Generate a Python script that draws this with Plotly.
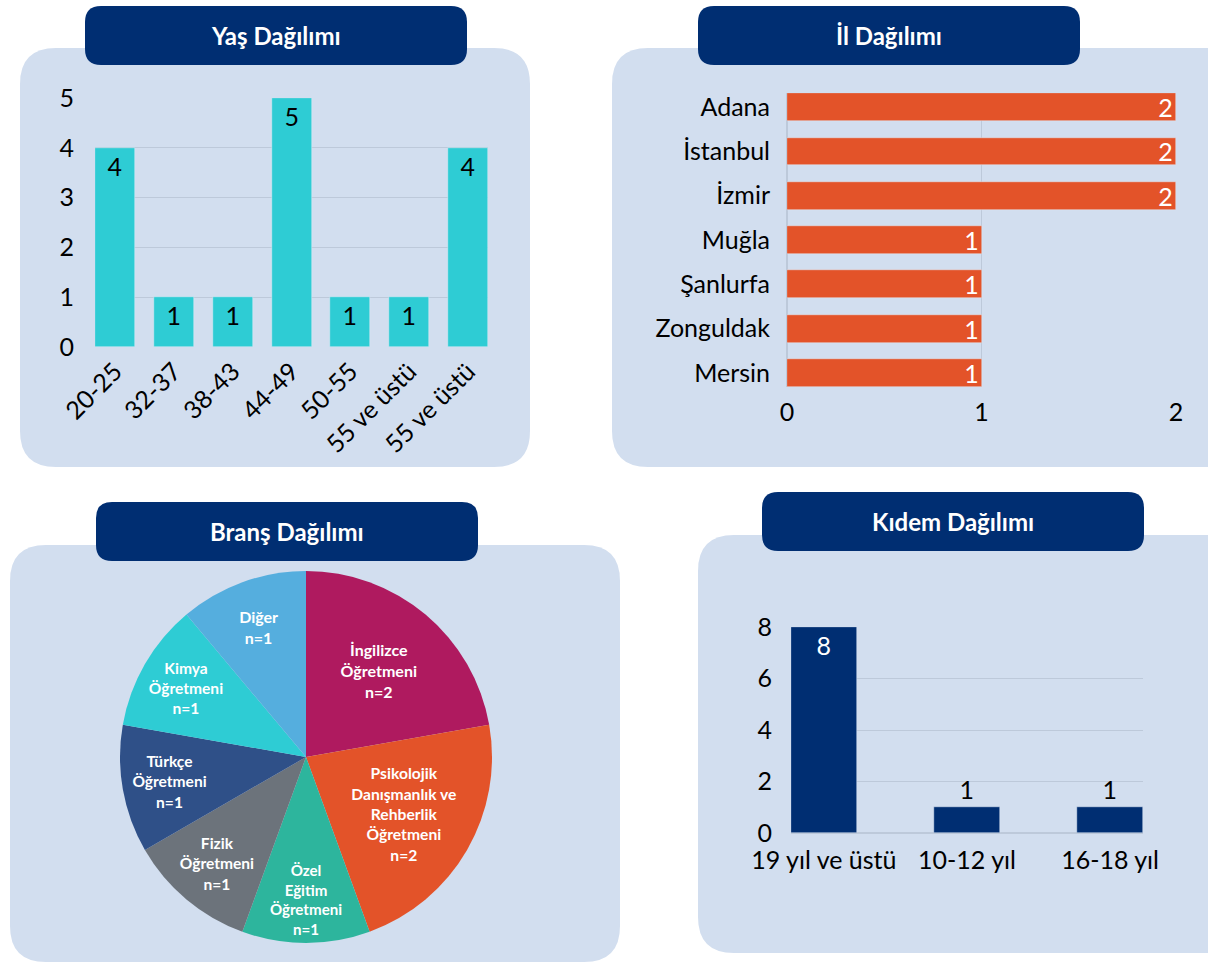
import plotly.graph_objects as go

W, H = 1208, 962

# data
age_groups = ["20-25", "32-37", "38-43", "44-49", "50-55", "55 ve üstü", "55 ve üstü"]
age_counts = [4, 1, 1, 5, 1, 1, 4]

cities = ["Adana", "İstanbul", "İzmir", "Muğla", "Şanlurfa", "Zonguldak", "Mersin"]
city_counts = [2, 2, 2, 1, 1, 1, 1]

branches = ["İngilizce<br>Öğretmeni", "Psikolojik<br>Danışmanlık ve<br>Rehberlik<br>Öğretmeni",
            "Özel<br>Eğitim<br>Öğretmeni", "Fizik<br>Öğretmeni", "Türkçe<br>Öğretmeni",
            "Kimya<br>Öğretmeni", "Diğer"]
branch_counts = [2, 2, 1, 1, 1, 1, 1]
branch_colors = ["#AF1A5F", "#E35329", "#2DB59D", "#6C737B", "#2F5088", "#2ECCD4", "#55AEDE"]

seniority = ["19 yıl ve üstü", "10-12 yıl", "16-18 yıl"]
seniority_counts = [8, 1, 1]

FONT = "Lato"
NAVY = "#002E72"
PANEL = "#D2DEEF"
GRID = "#BDC9DA"


def px_x(x):
    return x / W


def px_y(y):
    return 1 - y / H


def rounded_rect(x0, y0, x1, y1, r, color, layer="below"):
    # path in paper coords built from pixel values
    pts = [
        f"M {px_x(x0 + r)},{px_y(y0)}",
        f"L {px_x(x1 - r)},{px_y(y0)}",
        f"Q {px_x(x1)},{px_y(y0)} {px_x(x1)},{px_y(y0 + r)}",
        f"L {px_x(x1)},{px_y(y1 - r)}",
        f"Q {px_x(x1)},{px_y(y1)} {px_x(x1 - r)},{px_y(y1)}",
        f"L {px_x(x0 + r)},{px_y(y1)}",
        f"Q {px_x(x0)},{px_y(y1)} {px_x(x0)},{px_y(y1 - r)}",
        f"L {px_x(x0)},{px_y(y0 + r)}",
        f"Q {px_x(x0)},{px_y(y0)} {px_x(x0 + r)},{px_y(y0)}",
        "Z",
    ]
    return dict(type="path", path=" ".join(pts), xref="paper", yref="paper",
                fillcolor=color, line=dict(width=0), layer=layer)


fig = go.Figure()

# Yaş Dağılımı
fig.add_trace(go.Bar(
    x=list(range(len(age_groups))), y=age_counts, width=0.68,
    marker_color="#2ECCD4", text=age_counts, textposition="inside", textangle=0,
    insidetextanchor="end", constraintext="none",
    textfont=dict(color="black", size=25, family=FONT),
    xaxis="x", yaxis="y", showlegend=False,
))

# İl Dağılımı
fig.add_trace(go.Bar(
    x=city_counts, y=cities, orientation="h", width=0.63,
    marker_color="#E35329", text=city_counts, textposition="inside", textangle=0,
    insidetextanchor="end", constraintext="none",
    textfont=dict(color="white", size=25, family=FONT),
    xaxis="x2", yaxis="y2", showlegend=False,
))

# Branş Dağılımı
fig.add_trace(go.Pie(
    labels=branches, values=branch_counts, sort=False, direction="clockwise",
    rotation=0,
    text=[f"<b>{b}<br>n={n}</b>" for b, n in zip(branches, branch_counts)],
    textinfo="text", textposition="inside", insidetextorientation="horizontal",
    textfont=dict(color="white", size=16, family=FONT),
    marker=dict(colors=branch_colors, line=dict(width=0)),
    domain=dict(x=[px_x(120), px_x(492)], y=[px_y(943), px_y(571)]),
    showlegend=False, hoverinfo="label+value",
))

# Kıdem Dağılımı
fig.add_trace(go.Bar(
    x=list(range(len(seniority))), y=seniority_counts, width=0.46,
    marker_color=NAVY, text=seniority_counts, textangle=0,
    textposition=["inside", "outside", "outside"], insidetextanchor="end",
    constraintext="none",
    insidetextfont=dict(color="white", size=25, family=FONT),
    outsidetextfont=dict(color="black", size=25, family=FONT),
    cliponaxis=False, xaxis="x3", yaxis="y3", showlegend=False,
))

tick = dict(size=25, color="black", family=FONT)

fig.update_layout(
    width=W, height=H, autosize=False,
    margin=dict(l=0, r=0, t=0, b=0, pad=0, autoexpand=False),
    paper_bgcolor="white", plot_bgcolor="rgba(0,0,0,0)",
    font=dict(family=FONT),
    bargap=0,
    xaxis=dict(domain=[px_x(95), px_x(488)], range=[-0.34, 6.34],
               tickvals=list(range(len(age_groups))), ticktext=age_groups,
               tickangle=-45, tickfont=tick, showgrid=False, zeroline=False,
               showline=False, ticks="", ticklabelstandoff=4, fixedrange=True),
    yaxis=dict(domain=[px_y(347), px_y(98)], range=[0, 5], dtick=1,
               tickfont=tick, gridcolor=GRID, gridwidth=1, zeroline=False,
               showline=False, ticks="", ticklabelstandoff=20, fixedrange=True),
    xaxis2=dict(domain=[px_x(787), px_x(1176)], range=[0, 2], dtick=1,
                tickfont=tick, gridcolor=GRID, zeroline=True, zerolinecolor=GRID,
                anchor="y2", ticks="", ticklabelstandoff=8, fixedrange=True),
    yaxis2=dict(domain=[px_y(387), px_y(93)], range=[6.32, -0.32],
                type="category", categoryorder="array", categoryarray=cities,
                tickfont=tick, showgrid=False, anchor="x2", ticks="",
                ticklabelstandoff=16, fixedrange=True),
    xaxis3=dict(domain=[px_x(791), px_x(1143)], range=[-0.23, 2.23],
                tickvals=list(range(len(seniority))), ticktext=seniority,
                tickfont=tick, showgrid=False, zeroline=False, anchor="y3",
                ticks="", ticklabelstandoff=10, fixedrange=True),
    yaxis3=dict(domain=[px_y(833), px_y(627)], range=[0, 8], dtick=2,
                tickfont=tick, gridcolor=GRID, zeroline=True, zerolinecolor=GRID,
                anchor="x3", ticks="", ticklabelstandoff=18, fixedrange=True),
)

shapes = [
    rounded_rect(20, 48, 530, 467, 36, PANEL),
    rounded_rect(612, 48, 1240, 467, 36, PANEL),
    rounded_rect(10, 545, 620, 962, 36, PANEL),
    rounded_rect(698, 535, 1240, 953, 36, PANEL),
    # title boxes sit above the panels
    rounded_rect(85, 6, 467, 65, 16, NAVY, "above"),
    rounded_rect(698, 6, 1080, 65, 16, NAVY, "above"),
    rounded_rect(96, 502, 478, 561, 16, NAVY, "above"),
    rounded_rect(762, 492, 1144, 551, 16, NAVY, "above"),
]
fig.update_layout(shapes=shapes)

titles = [("Yaş Dağılımı", 276, 35), ("İl Dağılımı", 889, 35),
          ("Branş Dağılımı", 287, 531), ("Kıdem Dağılımı", 953, 521)]
for t, cx, cy in titles:
    fig.add_annotation(text=f"<b>{t}</b>", x=px_x(cx), y=px_y(cy), xref="paper",
                       yref="paper", xanchor="center", yanchor="middle",
                       showarrow=False,
                       font=dict(color="white", size=24, family=FONT))

fig.write_html("out.html", config=dict(displayModeBar=False),
               post_script="document.body.style.margin='0';")
